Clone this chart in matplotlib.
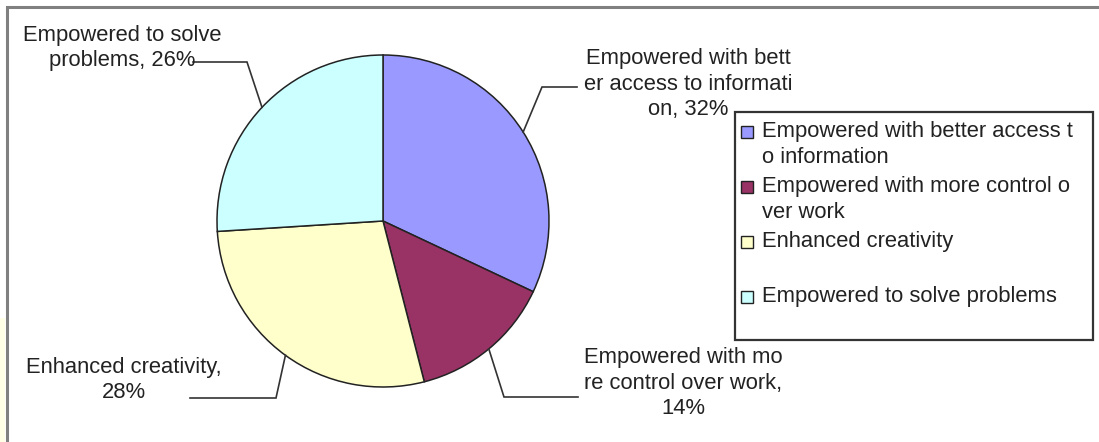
import matplotlib.pyplot as plt
import numpy as np
from matplotlib.patches import Rectangle

plt.rcParams['font.family'] = ['Liberation Sans', 'DejaVu Sans']

# slice data, clockwise from 12 o'clock
categories = ["Empowered with better access to information",
              "Empowered with more control over work",
              "Enhanced creativity",
              "Empowered to solve problems"]
shares = [32, 14, 28, 26]
colors = ["#9999FF", "#993366", "#FFFFCC", "#CCFFFF"]

# data labels as wrapped by the chart, percent appended below
label_heads = ["Empowered with bett\ner access to informati\non, ",
               "Empowered with mo\nre control over work,\n",
               "Enhanced creativity,\n",
               "Empowered to solve\nproblems, "]
legend_labels = ["Empowered with better access t\no information",
                 "Empowered with more control o\nver work",
                 "Enhanced creativity",
                 "Empowered to solve problems"]

W, H = 1099, 442
FS = 15.8
fig = plt.figure(figsize=(W / 100, H / 100), dpi=100)
ax = fig.add_axes([0, 0, 1, 1])


def py(y):
    # pixel row -> data y
    return H - y


cx, cy, r = 383, 221, 166
wedges, _ = ax.pie(shares, colors=colors, startangle=90, counterclock=False,
                   center=(cx, py(cy)), radius=r, frame=True,
                   wedgeprops=dict(edgecolor="#222222", linewidth=1.1))
ax.set_xlim(0, W)
ax.set_ylim(0, H)
ax.set_aspect("auto")
ax.axis("off")

# elbow and text anchor for each data label (pixel coords)
elbows = [(542, 87), (504, 397), (276, 398), (247, 62)]
ends = [(577, 87), (578, 397), (190, 398), (193, 62)]
text_pos = [(688, 84), (683, 383), (124, 380), (122, 48)]

for w, share, head, el, en, tp in zip(wedges, shares, label_heads, elbows, ends, text_pos):
    mid = np.deg2rad((w.theta1 + w.theta2) / 2)
    sx, sy = cx + r * np.cos(mid), py(cy) + r * np.sin(mid)
    ax.plot([sx, el[0], en[0]], [sy, py(el[1]), py(en[1])],
            color="#333333", lw=1.2, solid_joinstyle="miter")
    ax.text(tp[0], py(tp[1]), f"{head}{share}%", ha="center", va="center",
            fontsize=FS, color="#222222", linespacing=1.3)

# legend box drawn by hand so markers sit on the first text line
ax.add_patch(Rectangle((735, py(340)), 358, 228, facecolor="white",
                       edgecolor="#333333", lw=1.6))
for i, (lab, c) in enumerate(zip(legend_labels, colors)):
    ly = 132 + i * 55
    ax.add_patch(Rectangle((741, py(ly) - 6), 12, 12, facecolor=c,
                           edgecolor="#222222", lw=1.0))
    ax.text(762, py(ly) + 11, lab, ha="left", va="top", fontsize=FS,
            color="#222222", linespacing=1.3)

# outer frame (cut off on the right and bottom) and pale strip at the left
ax.add_patch(Rectangle((0, 0), 5, py(318), facecolor="#FFFFE6", edgecolor="none"))
ax.plot([7, 7, W], [0, py(7), py(7)], color="#808080", lw=2.2,
        solid_joinstyle="miter")

fig.savefig("out.png", dpi=100)
